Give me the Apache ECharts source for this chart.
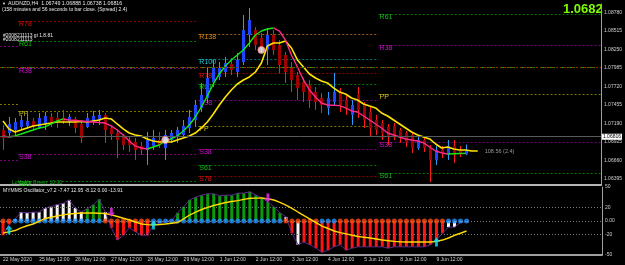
<!DOCTYPE html>
<html>
<head>
<meta charset="utf-8">
<script src="https://cdn.jsdelivr.net/npm/echarts@6/dist/echarts.min.js"></script>
<style>
  html, body { margin: 0; padding: 0; background: #000; }
  #chart { width: 625px; height: 265px; }
</style>
</head>
<body>
<div id="chart"></div>
<script>
// AUDNZD H4, 22 May 2020 12:00 -> 10 Jun 2020 08:00
const year = 2020;
const days = ['22 May', '25 May', '26 May', '27 May', '28 May', '29 May', '1 Jun', '2 Jun',
  '3 Jun', '4 Jun', '5 Jun', '8 Jun', '9 Jun', '10 Jun'];
const firstDayHours = [12, 16, 20];
const lastDayHours = [0, 4, 8];
const fullDayHours = [0, 4, 8, 12, 16, 20];
const totalSlots = 100; // bars + empty chart shift

const opens = [1.07096, 1.07053, 1.07096, 1.07139, 1.07154, 1.07225, 1.07139, 1.07182, 1.07282, 1.07268,
  1.07268, 1.07211, 1.07254, 1.07182, 1.07139, 1.07211, 1.07239, 1.07311, 1.07125, 1.07053,
  1.07011, 1.06953, 1.06925, 1.06868, 1.06811, 1.06868, 1.06953, 1.06839, 1.06953, 1.06996,
  1.07025, 1.07125, 1.07239, 1.07411, 1.07554, 1.07782, 1.07854, 1.07925, 1.08039, 1.07925,
  1.08068, 1.08454, 1.08525, 1.08411, 1.08240, 1.08454, 1.08311, 1.08168, 1.07982, 1.07882,
  1.07782, 1.07739, 1.07639, 1.07554, 1.07411, 1.07496, 1.07639, 1.07525, 1.07311, 1.07596,
  1.07454, 1.07354, 1.07239, 1.07196, 1.07139, 1.07154, 1.07096, 1.07053, 1.07025, 1.06839,
  1.06953, 1.06839, 1.06668, 1.06811, 1.06739, 1.06868, 1.06811, 1.06749];
const closes = [1.06982, 1.07182, 1.07211, 1.07239, 1.07225, 1.07154, 1.07268, 1.07296, 1.07182, 1.07211,
  1.07225, 1.07282, 1.07125, 1.06982, 1.07268, 1.07296, 1.07311, 1.07096, 1.07039, 1.06953,
  1.06882, 1.06882, 1.06811, 1.06811, 1.06953, 1.06982, 1.06882, 1.07025, 1.07053, 1.07096,
  1.07154, 1.07282, 1.07454, 1.07596, 1.07839, 1.07997, 1.07982, 1.08054, 1.07954, 1.08097,
  1.08525, 1.08668, 1.08311, 1.08268, 1.08454, 1.08240, 1.08025, 1.07925, 1.07811, 1.07697,
  1.07639, 1.07525, 1.07496, 1.07454, 1.07554, 1.07639, 1.07454, 1.07411, 1.07454, 1.07382,
  1.07239, 1.07125, 1.07096, 1.07053, 1.06996, 1.07011, 1.06982, 1.06925, 1.06839, 1.06953,
  1.06839, 1.06668, 1.06811, 1.06768, 1.06868, 1.06739, 1.06752, 1.06816];
const lows = [1.06811, 1.07011, 1.06996, 1.07096, 1.07111, 1.07082, 1.07111, 1.07096, 1.07139, 1.07125,
  1.07182, 1.07154, 1.07053, 1.06911, 1.07125, 1.07168, 1.07168, 1.06911, 1.06953, 1.06696,
  1.06811, 1.06782, 1.06668, 1.06739, 1.06596, 1.06811, 1.06839, 1.06668, 1.06911, 1.06911,
  1.06982, 1.07053, 1.07139, 1.07354, 1.07482, 1.07711, 1.07811, 1.07854, 1.07882, 1.07854,
  1.08025, 1.08282, 1.08240, 1.08211, 1.08025, 1.08168, 1.07911, 1.07768, 1.07639, 1.07525,
  1.07496, 1.07411, 1.07382, 1.07339, 1.07311, 1.07454, 1.07354, 1.07311, 1.07168, 1.07268,
  1.07125, 1.06996, 1.07025, 1.06953, 1.06882, 1.06953, 1.06911, 1.06853, 1.06768, 1.06811,
  1.06782, 1.06353, 1.06596, 1.06696, 1.06668, 1.06625, 1.06711, 1.06738];
const highs = [1.07168, 1.07282, 1.07268, 1.07311, 1.07325, 1.07268, 1.07339, 1.07354, 1.07339, 1.07354,
  1.07382, 1.07325, 1.07282, 1.07211, 1.07339, 1.07368, 1.07382, 1.07339, 1.07154, 1.07111,
  1.07039, 1.07011, 1.06982, 1.06925, 1.07068, 1.07096, 1.07068, 1.07096, 1.07096, 1.07139,
  1.07239, 1.07382, 1.07525, 1.07768, 1.07997, 1.08097, 1.08068, 1.08140, 1.08125, 1.08197,
  1.08740, 1.08840, 1.08568, 1.08482, 1.08554, 1.08525, 1.08382, 1.08211, 1.08068, 1.07925,
  1.07839, 1.07811, 1.07711, 1.07625, 1.07639, 1.07911, 1.07697, 1.07582, 1.07525, 1.07711,
  1.07496, 1.07425, 1.07311, 1.07239, 1.07182, 1.07196, 1.07125, 1.07082, 1.07053, 1.06996,
  1.06996, 1.06882, 1.06868, 1.06868, 1.06953, 1.06953, 1.06868, 1.06888];

// fast MA (green rising / pink falling) and slow yellow MA
const fastMa = [1.07011, 1.06996, 1.07011, 1.07039, 1.07068, 1.07096, 1.07125, 1.07139, 1.07182, 1.07225,
  1.07254, 1.07239, 1.07232, 1.07225, 1.07218, 1.07211, 1.07204, 1.07196, 1.07154, 1.07096,
  1.07025, 1.06939, 1.06868, 1.06839, 1.06825, 1.06853, 1.06882, 1.06939, 1.06968, 1.07011,
  1.07082, 1.07168, 1.07282, 1.07425, 1.07582, 1.07754, 1.07897, 1.08011, 1.08097, 1.08168,
  1.08240, 1.08340, 1.08454, 1.08511, 1.08540, 1.08554, 1.08511, 1.08382, 1.08168, 1.07997,
  1.07811, 1.07668, 1.07568, 1.07482, 1.07454, 1.07450, 1.07445, 1.07411, 1.07368, 1.07354,
  1.07296, 1.07239, 1.07182, 1.07125, 1.07053, 1.07025, 1.06996, 1.06968, 1.06953, 1.06939,
  1.06911, 1.06853, 1.06796, 1.06768, 1.06754, 1.06757, 1.06760, 1.06762];
const slowMa = [1.07225, 1.07111, 1.07068, 1.07096, 1.07125, 1.07154, 1.07168, 1.07182, 1.07196, 1.07211,
  1.07211, 1.07211, 1.07211, 1.07218, 1.07211, 1.07225, 1.07239, 1.07268, 1.07254, 1.07182,
  1.07111, 1.07053, 1.07025, 1.07011, 1.06968, 1.06939, 1.06925, 1.06925, 1.06925, 1.06953,
  1.06982, 1.07011, 1.07053, 1.07125, 1.07211, 1.07325, 1.07454, 1.07568, 1.07668, 1.07754,
  1.07811, 1.07854, 1.07925, 1.08054, 1.08296, 1.08340, 1.08340, 1.08368, 1.08268, 1.08097,
  1.07997, 1.07897, 1.07839, 1.07797, 1.07768, 1.07697, 1.07639, 1.07611, 1.07554, 1.07525,
  1.07468, 1.07439, 1.07411, 1.07339, 1.07296, 1.07239, 1.07182, 1.07125, 1.07068, 1.07025,
  1.06996, 1.06968, 1.06896, 1.06839, 1.06853, 1.06825, 1.06811, 1.06811, 1.06796, 1.06796];
const signalDots = [[27, 1.06953], [43, 1.08240]];

// weekly fibonacci pivots: [first bar, last bar] per week
const pivotWeeks = [[0, 2], [3, 32], [33, 62], [63, 99]];
const pivotNames = ['R138', 'R100', 'R78', 'R61', 'R38', 'PP', 'S38', 'S61', 'S78'];
const pivotValues = [
  [null, null, 1.08468, null],
  [null, null, 1.08111, null],
  [null, 1.08654, 1.07911, null],
  [null, 1.08368, 1.07754, 1.08754],
  [1.08297, 1.07982, 1.07525, 1.08311],
  [1.07468, 1.07368, 1.07154, 1.07611],
  [1.06668, 1.06754, 1.06825, 1.06925],
  [null, 1.06367, 1.06596, 1.06482],
  [null, null, 1.06439, null]
];
const objectLines = [1.08397, 1.08368];
const bidPrice = 1.06816;
const priceTicks = [1.06395, 1.06660, 1.06925, 1.07190, 1.07455, 1.07720, 1.07985, 1.08250, 1.08515, 1.08780];

// oscillator
const osc = [-21, -5, 3, 13, 12, 13, 13, 19, 21, 24,
  26, 31, 19, 13, 18, 24, 32, 13, -10, -28,
  -21, -10, -16, -21, -21, -6, -3, 0, 0, 12,
  21, 31, 35, 38, 40, 40, 37, 38, 38, 41,
  41, 43, 38, 34, 28, 21, 12, 6, -18, -35,
  -31, -35, -40, -46, -43, -38, -35, -43, -40, -38,
  -38, -38, -38, -38, -40, -38, -38, -38, -38, -38,
  -38, -35, -28, -18, -9, -9, -2, -1];
const oscState = ['R', 'R', 'W', 'W', 'W', 'W', 'W', 'W', 'W', 'W',
  'W', 'W', 'W', 'W', 'G', 'G', 'G', 'W', 'R', 'R',
  'R', 'R', 'R', 'R', 'R', 'R', 'W', 'W', 'W', 'G',
  'G', 'G', 'G', 'G', 'G', 'G', 'G', 'G', 'G', 'G',
  'G', 'G', 'G', 'G', 'G', 'G', 'G', 'W', 'R', 'W',
  'R', 'R', 'R', 'R', 'R', 'R', 'R', 'R', 'R', 'R',
  'R', 'R', 'R', 'R', 'R', 'R', 'R', 'R', 'R', 'R',
  'R', 'R', 'R', 'R', 'W', 'W', 'W', 'W'];
const trendDots = ['O', 'O', 'B', 'B', 'B', 'B', 'B', 'B', 'B', 'B',
  'B', 'B', 'B', 'B', 'B', 'B', 'B', 'O', 'O', 'O',
  'O', 'O', 'O', 'O', 'O', 'B', 'B', 'B', 'B', 'B',
  'B', 'B', 'B', 'B', 'B', 'B', 'B', 'B', 'B', 'B',
  'B', 'B', 'B', 'B', 'B', 'B', 'B', 'O', 'O', 'O',
  'O', 'O', 'O', 'B', 'B', 'B', 'O', 'O', 'O', 'O',
  'O', 'O', 'O', 'O', 'O', 'O', 'O', 'O', 'O', 'O',
  'O', 'O', 'O', 'O', 'B', 'B', 'B', 'B'];
const oscSignal = [-17.6, -16, -14, -10, -7, -4.4, -0.5, 3.7, 5.5, 7.4,
  9, 10.3, 11, 11.8, 11.8, 11.8, 11.5, 11, 9, 6.6,
  4, 1.5, -1.5, -4.4, -5.3, -5.9, -5.2, -4.4, -3.3, -2.2,
  3, 8.8, 13, 16.9, 20, 22.8, 25, 27.2, 28.7, 30,
  31.8, 33.4, 33.7, 33.8, 32.5, 30.9, 27.5, 23.5, 18.5, 13.2,
  8, 2.9, -2.3, -7.4, -11, -14.7, -17, -19, -21, -22.8,
  -24, -25, -26.5, -28, -29, -30, -30.5, -30.9, -30.9, -30.9,
  -30.9, -30.9, -30, -28, -25, -21, -18, -14.7];
const buyArrows = [[1, -13], [25, -6], [72, -31]];
const sellArrows = [[18, 13], [44, 34]];
const oscTicks = [-50, -20, 0, 20, 50];

// ---- build categories
const cats = [];
days.forEach((d, k) => {
  const hrs = k === 0 ? firstDayHours : (k === days.length - 1 ? lastDayHours : fullDayHours);
  hrs.forEach(h => cats.push(d + ' ' + String(h).padStart(2, '0') + ':00'));
});
const nBars = cats.length;
for (let i = nBars; i < totalSlots; i++) cats.push('f' + i);

const candleData = opens.map((o, i) => [i, o, closes[i], lows[i], highs[i]]);

// split fast MA by slope
const fastUp = fastMa.map(() => null), fastDn = fastMa.map(() => null);
let rising = false;
for (let i = 1; i < fastMa.length; i++) {
  if (fastMa[i] !== fastMa[i - 1]) rising = fastMa[i] > fastMa[i - 1];
  const t = rising ? fastUp : fastDn;
  t[i - 1] = fastMa[i - 1];
  t[i] = fastMa[i];
}

const pivotStyle = {
  R138: ['#9a5a10', '#e08a10'], R100: ['#007a80', '#10c8d8'], R78: ['#8a0000', '#e01010'],
  R61: ['#007800', '#10c010'], R38: ['#7a007a', '#d010d0'], PP: ['#7a7a00', '#d0c010'],
  S38: ['#7a007a', '#d010d0'], S61: ['#007800', '#10c010'], S78: ['#8a0000', '#e01010']
};
const pivotData = [];
pivotValues.forEach((row, li) => row.forEach((v, wi) => {
  if (v != null) pivotData.push([pivotWeeks[wi][0], pivotWeeks[wi][1], v, li, wi]);
}));

const oscColors = { W: '#f4f4f4', G: '#0a9a0a', R: '#ff1414' };
const dotColors = { B: '#1e90ff', O: '#ff4a10' };

const FONT = '"Liberation Sans", Arial, sans-serif';
const last = nBars - 1;

const chart = echarts.init(document.getElementById('chart'));
chart.setOption({
  backgroundColor: '#000',
  animation: false,
  grid: [
    { left: -3, right: 23, top: 4, height: 181 },
    { left: -3, right: 23, top: 187, height: 68 }
  ],
  xAxis: [
    {
      type: 'category', gridIndex: 0, data: cats,
      axisLine: { onZero: false, lineStyle: { color: '#b4b4b4', width: 2 } },
      axisTick: { show: false }, axisLabel: { show: false }, splitLine: { show: false }
    },
    {
      type: 'category', gridIndex: 1, data: cats,
      axisLine: { onZero: false, lineStyle: { color: '#a0a0a0', width: 2 } },
      axisTick: { show: false }, splitLine: { show: false },
      axisLabel: {
        interval: (i, v) => i === 0 || v.endsWith(' 12:00'),
        formatter: (v, i) => i === 0 ? v.split(' ').slice(0, 2).join(' ') + ' ' + year : v,
        align: 'left', color: '#d0d0d0', fontSize: 5, fontFamily: FONT, margin: 2, hideOverlap: false
      }
    }
  ],
  yAxis: [
    {
      type: 'value', gridIndex: 0, position: 'right', min: 1.0631, max: 1.08897,
      axisLine: { show: true, lineStyle: { color: '#a0a0a0' } },
      axisTick: { show: false }, splitLine: { show: false },
      axisLabel: {
        customValues: priceTicks, formatter: v => v.toFixed(5),
        color: '#d0d0d0', fontSize: 5, fontFamily: FONT, margin: 3
      }
    },
    {
      type: 'value', gridIndex: 1, position: 'right', min: -50, max: 50,
      axisLine: { show: true, lineStyle: { color: '#a0a0a0' } },
      axisTick: { show: false }, splitLine: { show: false },
      axisLabel: {
        customValues: oscTicks, formatter: v => v === 0 ? '0.00' : String(v),
        color: '#d0d0d0', fontSize: 5, fontFamily: FONT, margin: 3
      }
    }
  ],
  series: [
    {
      type: 'custom', name: 'pivots', xAxisIndex: 0, yAxisIndex: 0, z: 1, silent: true,
      data: pivotData,
      renderItem: (params, api) => {
        const half = api.size([1, 0])[0] / 2;
        const p1 = api.coord([api.value(0), api.value(2)]);
        const p2 = api.coord([api.value(1), api.value(2)]);
        const name = pivotNames[api.value(3)];
        const st = pivotStyle[name];
        const y = Math.round(p1[1]) + 0.5;
        const children = [{
          type: 'line',
          shape: { x1: p1[0] - half, y1: y, x2: p2[0] + half, y2: y },
          style: { stroke: st[0], lineWidth: 1, lineDash: [2, 2] }
        }];
        if (api.value(4) > 0) {
          children.push({
            type: 'text', x: p1[0] - half + 1, y: y - 0.5,
            style: { text: name, fill: st[1], font: '7px ' + FONT, verticalAlign: 'top' }
          });
        }
        return { type: 'group', children };
      },
      markLine: {
        silent: true, symbol: 'none', animation: false,
        data: [
          { yAxis: objectLines[0], lineStyle: { color: '#10a010', width: 1, type: [5, 2, 1, 2] }, label: { show: false } },
          { yAxis: objectLines[1], lineStyle: { color: '#a02a00', width: 1, type: [2, 2] }, label: { show: false } },
          {
            yAxis: bidPrice, lineStyle: { color: '#5a5a5a', width: 1, type: 'solid' },
            label: {
              show: true, position: 'end', distance: 1, formatter: bidPrice.toFixed(5),
              color: '#000', backgroundColor: '#fff', fontSize: 5, fontFamily: FONT, padding: [1, 1, 0, 1]
            }
          }
        ]
      }
    },
    {
      type: 'custom', name: 'candles', xAxisIndex: 0, yAxisIndex: 0, z: 2, silent: true,
      data: candleData,
      encode: { x: 0, y: [1, 2, 3, 4] },
      renderItem: (params, api) => {
        const o = api.value(1), c = api.value(2);
        const pO = api.coord([api.value(0), o]);
        const pC = api.coord([api.value(0), c]);
        const pL = api.coord([api.value(0), api.value(3)]);
        const pH = api.coord([api.value(0), api.value(4)]);
        const up = c >= o;
        const x = Math.round(pO[0]) + 0.5;
        const top = Math.min(pO[1], pC[1]), bot = Math.max(pO[1], pC[1]);
        return {
          type: 'group', children: [
            { type: 'line', shape: { x1: x, y1: pH[1], x2: x, y2: pL[1] }, style: { stroke: up ? '#2a9df4' : '#ff1a1a', lineWidth: 1 } },
            { type: 'rect', shape: { x: x - 1.5, y: top, width: 3, height: Math.max(bot - top, 1) }, style: { fill: up ? '#1f45ff' : '#a00000' } }
          ]
        };
      }
    },
    {
      type: 'line', name: 'slow', xAxisIndex: 0, yAxisIndex: 0, z: 3, data: slowMa,
      symbol: 'none', lineStyle: { color: '#ffe400', width: 1.6 },
      markPoint: {
        silent: true, symbol: 'circle', symbolSize: 0,
        data: [{ coord: [slowMa.length, slowMa[slowMa.length - 1]] }],
        label: { show: true, position: 'right', distance: 1, formatter: '108.56 (2.4)', color: '#9a9a9a', fontSize: 5.5, fontFamily: FONT }
      }
    },
    {
      type: 'line', name: 'fastUp', xAxisIndex: 0, yAxisIndex: 0, z: 4, data: fastUp,
      symbol: 'none', connectNulls: false, lineStyle: { color: '#14e614', width: 1.4 }
    },
    {
      type: 'line', name: 'fastDn', xAxisIndex: 0, yAxisIndex: 0, z: 4, data: fastDn,
      symbol: 'none', connectNulls: false, lineStyle: { color: '#ff2a8a', width: 1.4 }
    },
    {
      type: 'scatter', name: 'signals', xAxisIndex: 0, yAxisIndex: 0, z: 5, data: signalDots,
      symbolSize: 7, itemStyle: { color: '#fff4f4', borderColor: '#ff8a8a', borderWidth: 1 }
    },
    {
      type: 'bar', name: 'osc', xAxisIndex: 1, yAxisIndex: 1, z: 2, barWidth: 3,
      data: osc.map((v, i) => ({ value: v, itemStyle: { color: oscColors[oscState[i]] } })),
      markLine: {
        silent: true, symbol: 'none', animation: false, label: { show: false },
        lineStyle: { color: '#7a7a7a', width: 1, type: [1, 2] },
        data: [{ yAxis: 20 }, { yAxis: 0 }, { yAxis: -20 }]
      }
    },
    {
      type: 'line', name: 'envelope', xAxisIndex: 1, yAxisIndex: 1, z: 3, data: osc,
      symbol: 'none', lineStyle: { color: '#5a2a8a', width: 1 }
    },
    {
      type: 'scatter', name: 'trend', xAxisIndex: 1, yAxisIndex: 1, z: 4, symbolSize: 5,
      data: trendDots.map((d, i) => ({ value: [i, 0], itemStyle: { color: dotColors[d] } }))
    },
    {
      type: 'line', name: 'signal', xAxisIndex: 1, yAxisIndex: 1, z: 5, data: oscSignal,
      symbol: 'none', lineStyle: { color: '#ffd800', width: 1.4 }
    },
    {
      type: 'scatter', name: 'buy', xAxisIndex: 1, yAxisIndex: 1, z: 6, data: buyArrows,
      symbol: 'path://M5 0 L10 5 L7 5 L7 11 L3 11 L3 5 L0 5 Z', symbolSize: [7, 9],
      itemStyle: { color: '#10e8ff' }
    },
    {
      type: 'scatter', name: 'sell', xAxisIndex: 1, yAxisIndex: 1, z: 6, data: sellArrows,
      symbol: 'path://M3 0 L7 0 L7 6 L10 6 L5 11 L0 6 L3 6 Z', symbolSize: [7, 9],
      itemStyle: { color: '#f030f0' }
    }
  ],
  graphic: [
    { type: 'text', x: 2, y: 2, style: { text: '\u25BC', fill: '#e0e0e0', font: '4px ' + FONT } },
    {
      type: 'text', x: 8, y: 1.5,
      style: {
        text: 'AUDNZD,H4  ' + [opens[last], highs[last], lows[last], closes[last]].map(v => v.toFixed(5)).join(' '),
        fill: '#e8e8e8', font: '5.3px ' + FONT
      }
    },
    {
      type: 'text', x: 2, y: 7.5,
      style: { text: '(158 minutes and 56 seconds to bar close. (Spread) 2.4)', fill: '#e8e8e8', font: '5px ' + FONT }
    },
    { type: 'text', x: 3, y: 33, style: { text: '#2008211113 gi 1.8.81', fill: '#e8e8e8', font: '5px ' + FONT } },
    { type: 'text', x: 3, y: 37.5, style: { text: '#2008211113', fill: '#e8e8e8', font: '5px ' + FONT } },
    { type: 'text', x: 12, y: 180.5, style: { text: 'LoMaMa Green  10:00', fill: '#10b010', font: '5px ' + FONT } },
    {
      type: 'text', x: 563, y: 3,
      style: { text: closes[last].toFixed(4), fill: '#7cfc00', font: 'bold 13px ' + FONT }
    },
    {
      type: 'text', x: 3, y: 188,
      style: { text: 'MYMMS Oscillator_v7.2 -7.47 12.95 -8.12 0.00 -13.91', fill: '#e8e8e8', font: '5px ' + FONT }
    }
  ]
});
</script>
</body>
</html>
